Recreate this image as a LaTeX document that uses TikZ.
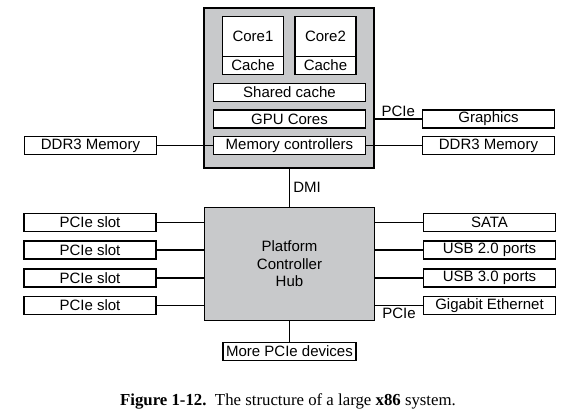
\documentclass[tikz,border=0pt]{standalone}
\usepackage{fontspec}
\setmainfont{Liberation Serif}
\setsansfont{Liberation Sans}
\usepackage{xcolor}
\usepackage{tikz}
\usetikzlibrary{positioning,calc}
\definecolor{chipgray}{RGB}{200,201,203}

\begin{document}
\begin{tikzpicture}[x=1pt,y=-1pt,node distance=8.5pt,line width=1.7pt,font=\sffamily\fontsize{15}{17.5}\selectfont]
        \tikzstyle{box}=[rectangle,draw=black,fill=white,inner sep=0pt,outer sep=0pt,minimum height=18pt,align=center]
        \tikzstyle{dev}=[box,minimum width=132pt]
        \tikzstyle{unit}=[box,minimum width=152pt]
        \tikzstyle{chip}=[rectangle,draw=black,fill=chipgray,inner sep=0pt,outer sep=0pt,minimum width=170pt,align=center]
        \useasboundingbox (0,0) rectangle (582,417);
        % processor chip
        \node[chip,minimum height=160pt] (cpu) at (289,88) {};
        \node[box,minimum width=61pt,minimum height=40pt] (core1) at (253,36.5) {Core1};
        \node[box,minimum width=61pt,below=0pt of core1] (cache1) {Cache};
        \node[box,minimum width=61pt,minimum height=40pt] (core2) at (325.5,36.5) {Core2};
        \node[box,minimum width=61pt,below=0pt of core2] (cache2) {Cache};
        \node[unit] (shared) at (289.5,92.5) {Shared cache};
        \node[unit,below=of shared] (gpu) {GPU Cores};
        \node[unit,below=of gpu] (memctl) {Memory controllers};
        \node[dev,left=57pt of memctl] (ddrL) {DDR3 Memory};
        \node[dev,right=57pt of memctl] (ddrR) {DDR3 Memory};
        \node[dev,above=8.5pt of ddrR] (graphics) {Graphics};
        % platform controller hub
        \node[chip,minimum height=113pt] (pch) at (289.5,264) {Platform\\Controller\\Hub};
        \node[dev] (slot1) at (90,222.5) {PCIe slot};
        \node[dev,below=9.7pt of slot1] (slot2) {PCIe slot};
        \node[dev,below=9.7pt of slot2] (slot3) {PCIe slot};
        \node[dev,below=9.7pt of slot3] (slot4) {PCIe slot};
        \node[dev] (sata) at (489.5,222.5) {SATA};
        \node[dev,below=9.7pt of sata] (usb2) {USB 2.0 ports};
        \node[dev,below=9.7pt of usb2] (usb3) {USB 3.0 ports};
        \node[dev,below=9.7pt of usb3] (gbe) {Gigabit Ethernet};
        \node[dev,minimum width=133pt,below=22pt of pch] (more) {More PCIe devices};
        \node[anchor=base,font=\rmfamily\fontsize{16.8}{19}\selectfont] (caption) at (288,405)
                {\textbf{Figure 1-12.}\ \ The structure of a large \textbf{x86} system.};
        \draw (ddrL) -- (memctl);
        \draw (memctl) -- (ddrR);
        \draw (cpu.east |- graphics) -- node[midway,above,inner sep=1.5pt]{PCIe} (graphics);
        \draw (cpu.south -| pch.north) -- node[right,inner sep=3pt]{DMI} (pch.north);
        \draw (slot1) -- (pch.west |- slot1);
        \draw (slot2) -- (pch.west |- slot2);
        \draw (slot3) -- (pch.west |- slot3);
        \draw (slot4) -- (pch.west |- slot4);
        \draw (pch.east |- sata) -- (sata);
        \draw (pch.east |- usb2) -- (usb2);
        \draw (pch.east |- usb3) -- (usb3);
        \draw (pch.east |- gbe) -- node[midway,below,inner sep=2pt]{PCIe} (gbe);
        \draw (pch.south -| more) -- (more);
\end{tikzpicture}
\end{document}
